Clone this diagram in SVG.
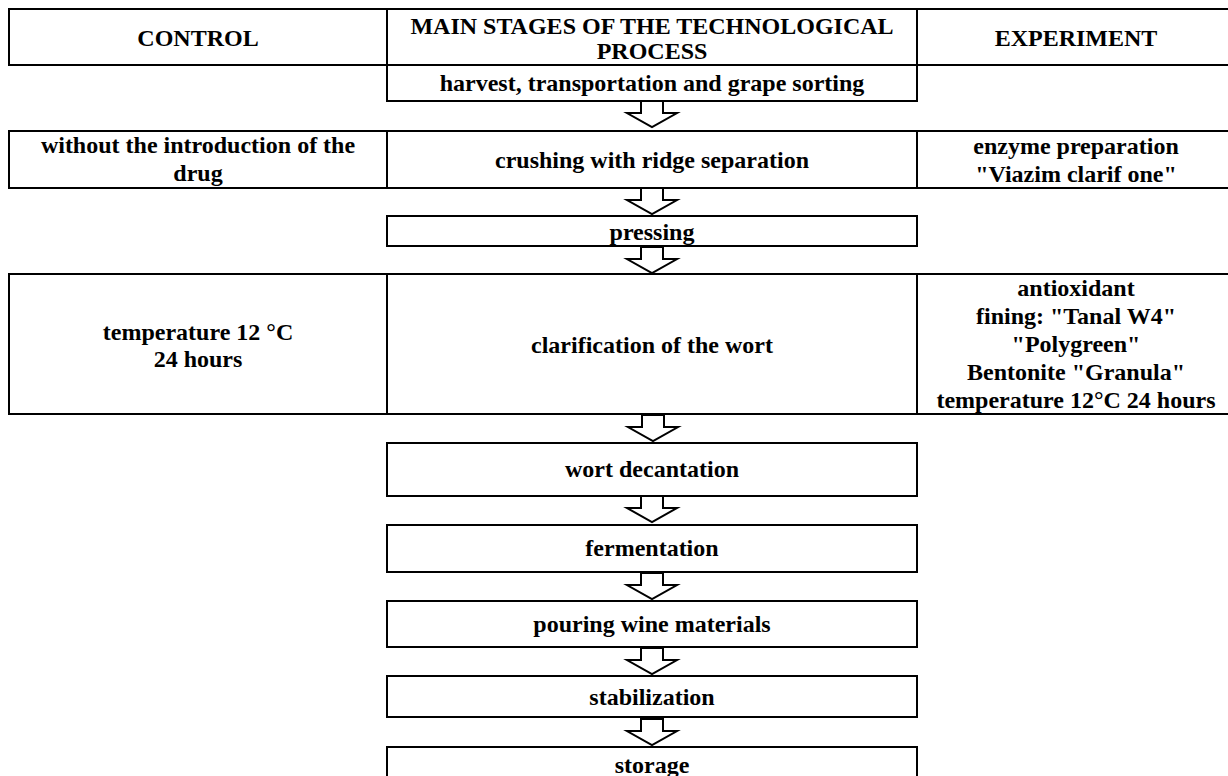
<svg xmlns="http://www.w3.org/2000/svg" width="1228" height="776" viewBox="0 0 1228 776">
<style>
rect.b{fill:#fff;stroke:#000;stroke-width:2}
text{font-family:"Liberation Serif","Times New Roman",serif;font-weight:bold;font-size:24px;fill:#000;text-anchor:middle}
.ah{fill:#fff;stroke:#000;stroke-width:2;stroke-linejoin:miter}
</style>
<rect width="1228" height="776" fill="#fff"/>
<defs>
<polygon id="ar" class="ah" points="-11,0 11,0 11,12 25,12 0,26 -25,12 -11,12"/>
</defs>
<g id="h-control"><rect class="b" x="9" y="9" width="378" height="56"/><text x="198" y="46">CONTROL</text></g>
<g id="h-main"><rect class="b" x="387" y="9" width="530" height="56"/><text x="652" y="34">MAIN STAGES OF THE TECHNOLOGICAL</text><text x="652" y="59">PROCESS</text></g>
<g id="h-exp"><rect class="b" x="917" y="9" width="318" height="56"/><text x="1076" y="46">EXPERIMENT</text></g>
<g id="harvest"><rect class="b" x="387" y="65" width="530" height="36"/><text x="652" y="91">harvest, transportation and grape sorting</text></g>
<g id="c-crush"><rect class="b" x="9" y="131" width="378" height="57"/><text x="198" y="153">without the introduction of the</text><text x="198" y="181">drug</text></g>
<g id="crushing"><rect class="b" x="387" y="131" width="530" height="57"/><text x="652" y="168">crushing with ridge separation</text></g>
<g id="e-crush"><rect class="b" x="917" y="131" width="318" height="57"/><text x="1076" y="154">enzyme preparation</text><text x="1076" y="182">"Viazim clarif one"</text></g>
<g id="pressing"><rect class="b" x="387" y="216" width="530" height="30"/><text x="652" y="240">pressing</text></g>
<g id="c-clar"><rect class="b" x="9" y="274" width="378" height="140"/><text x="198" y="340">temperature 12 °C</text><text x="198" y="367">24 hours</text></g>
<g id="clarification"><rect class="b" x="387" y="274" width="530" height="140"/><text x="652" y="353">clarification of the wort</text></g>
<g id="e-clar"><rect class="b" x="917" y="274" width="318" height="140"/><text x="1076" y="296">antioxidant</text><text x="1076" y="324">fining: "Tanal W4"</text><text x="1076" y="352">"Polygreen"</text><text x="1076" y="380">Bentonite "Granula"</text><text x="1076" y="408">temperature 12°C 24 hours</text></g>
<g id="decantation"><rect class="b" x="387" y="443" width="530" height="53"/><text x="652" y="477">wort decantation</text></g>
<g id="fermentation"><rect class="b" x="387" y="525" width="530" height="47"/><text x="652" y="556">fermentation</text></g>
<g id="pouring"><rect class="b" x="387" y="601" width="530" height="46"/><text x="652" y="632">pouring wine materials</text></g>
<g id="stabilization"><rect class="b" x="387" y="676" width="530" height="41"/><text x="652" y="705">stabilization</text></g>
<g id="storage"><rect class="b" x="387" y="747" width="530" height="60"/><text x="652" y="773">storage</text></g>
<g id="connectors">
<use href="#ar" x="652" y="101"/>
<use href="#ar" x="652" y="188"/>
<use href="#ar" x="652" y="247"/>
<use href="#ar" x="653" y="415"/>
<use href="#ar" x="652" y="496"/>
<use href="#ar" x="652" y="573"/>
<use href="#ar" x="652" y="648"/>
<use href="#ar" x="652" y="719"/>
</g>
</svg>
